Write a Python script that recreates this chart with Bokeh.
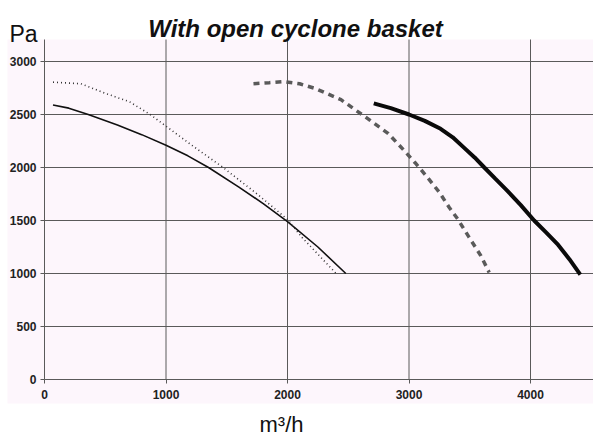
from bokeh.plotting import figure
from bokeh.models import Range1d, FixedTicker, Label, BoxAnnotation
from bokeh.embed import file_html
from bokeh.resources import INLINE

# ---- data ----
title_text = "With open cyclone basket"
y_unit = "Pa"
x_unit = "m³/h"
x_ticks = [0, 1000, 2000, 3000, 4000]
y_ticks = [0, 500, 1000, 1500, 2000, 2500, 3000]

# thin solid curve
c1_x = [70, 200, 360, 600, 800, 1000, 1180, 1350, 1600, 1800, 2000, 2250, 2480]
c1_y = [2590, 2560, 2500, 2400, 2310, 2210, 2110, 2000, 1815, 1660, 1490, 1250, 1000]

# thin dotted curve
c2_x = [70, 300, 500, 700, 870, 1000, 1200, 1470, 1750, 2000, 2120, 2400]
c2_y = [2805, 2790, 2700, 2620, 2500, 2390, 2220, 2000, 1750, 1510, 1340, 1000]

# thick dashed grey curve
c3_x = [1720, 1850, 1970, 2100, 2230, 2440, 2680, 2830, 2960, 3050, 3150, 3250, 3330, 3400, 3490, 3590, 3660]
c3_y = [2790, 2800, 2810, 2790, 2745, 2640, 2445, 2320, 2160, 2045, 1910, 1765, 1625, 1515, 1350, 1170, 1010]

# thick solid curve
c4_x = [2710, 2850, 3000, 3130, 3260, 3360, 3450, 3540, 3620, 3710, 3810, 3920, 4030, 4130, 4220, 4320, 4410]
c4_y = [2605, 2560, 2500, 2440, 2365, 2285, 2190, 2095, 2000, 1895, 1780, 1645, 1500, 1385, 1280, 1135, 990]

FONT = "Liberation Sans"
PINK = "#fdf6fc"
GRID = "#5a5a5a"

W, H = 593, 438
OX, OY = 44, 379          # pixel position of the data origin
SX, SY = 0.1215, 0.106    # pixels per data unit
X0, X1 = -OX / SX, (W - OX) / SX
Y0, Y1 = -(H - OY) / SY, OY / SY


def px_x(px):
    return (px - OX) / SX


def px_y(py):
    return (OY - py) / SY


Y_TOP = px_y(39)

p = figure(width=W, height=H, x_range=Range1d(X0, X1), y_range=Range1d(Y0, Y1),
           toolbar_location=None, output_backend="svg",
           min_border=0, min_border_left=0, min_border_right=0,
           min_border_top=0, min_border_bottom=0)
p.background_fill_color = "white"
p.border_fill_color = "white"
p.outline_line_color = None
p.grid.visible = False

# pale pink scanned-paper panel
p.add_layout(BoxAnnotation(left=px_x(7), right=X1, bottom=px_y(403), top=Y_TOP,
                           fill_color=PINK, fill_alpha=1, line_color=None,
                           level="underlay"))

p.xaxis.fixed_location = 0
p.yaxis.fixed_location = 0
p.xaxis.bounds = (0, X1)
p.yaxis.bounds = (0, Y_TOP)
for ax, ticks in ((p.xaxis[0], x_ticks), (p.yaxis[0], y_ticks)):
    ax.ticker = FixedTicker(ticks=ticks)
    ax.axis_line_color = GRID
    ax.major_tick_line_color = GRID
    ax.major_tick_in = 0
    ax.major_tick_out = 4
    ax.minor_tick_line_color = None
    ax.major_label_text_font = FONT
    ax.major_label_text_font_size = "12px"
    ax.major_label_text_font_style = "bold"
    ax.major_label_text_color = "#222222"
p.xaxis.major_label_standoff = 6
p.yaxis.major_label_standoff = 4

# grid lines from the tick arrays (stop at the axes, like the original)
gx = [t for t in x_ticks if t > 0]
gy = [t for t in y_ticks if t > 0]
p.segment(x0=gx, y0=[0] * len(gx), x1=gx, y1=[Y_TOP] * len(gx), line_color=GRID, line_width=1)
p.segment(x0=[0] * len(gy), y0=gy, x1=[X1] * len(gy), y1=gy, line_color=GRID, line_width=1)

p.line(c1_x, c1_y, line_color="#111111", line_width=1.6)
p.line(c2_x, c2_y, line_color="#333333", line_width=1.6, line_dash="1 3")
p.line(c3_x, c3_y, line_color="#5a5a5a", line_width=3.5, line_dash="6 5")
p.line(c4_x, c4_y, line_color="#0a0a0a", line_width=4)

p.add_layout(Label(x=px_x(295), y=px_y(28), text=title_text, text_align="center",
                   text_baseline="alphabetic", text_font=FONT,
                   text_font_size="24px", text_font_style="bold italic",
                   text_color="#111111"))
p.add_layout(Label(x=px_x(9), y=px_y(33), text=y_unit, text_align="left",
                   text_baseline="alphabetic", text_font=FONT,
                   text_font_size="23px", text_color="#111111"))
p.add_layout(Label(x=px_x(281), y=px_y(424), text=x_unit, text_align="center",
                   text_baseline="alphabetic", text_font=FONT,
                   text_font_size="22px", text_color="#111111"))

open("out.html", "w").write(file_html(p, INLINE))
